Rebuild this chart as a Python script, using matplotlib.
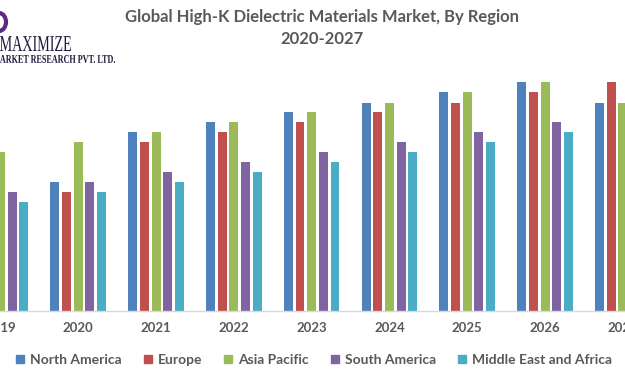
import numpy as np
import matplotlib
matplotlib.use("Agg")
from matplotlib import pyplot as plt
from matplotlib.lines import Line2D
from matplotlib.textpath import TextPath
from matplotlib.patches import PathPatch, Arc
from matplotlib.font_manager import FontProperties
import matplotlib.transforms as mtransforms

#%% data (arbitrary units)
years = ["2019", "2020", "2021", "2022", "2023", "2024", "2025", "2026", "2027"]
north_america = [14.9, 12.9, 17.9, 18.9, 19.9, 20.8, 21.9, 22.9, 20.8]
europe        = [13.9, 11.9, 16.9, 17.9, 18.9, 19.9, 20.8, 21.9, 22.9]
asia_pacific  = [15.9, 16.9, 17.9, 18.9, 19.9, 20.8, 21.9, 22.9, 20.8]
south_america = [11.9, 12.9, 13.9, 14.9, 15.9, 16.9, 17.9, 18.9, 17.9]
mea           = [10.9, 11.9, 12.9, 13.9, 14.9, 15.9, 16.9, 17.9, 16.9]

regions = ["North America", "Europe", "Asia Pacific", "South America", "Middle East and Africa"]
colors = ["#4F81BD", "#C0504D", "#9BBB59", "#8064A2", "#4BACC6"]
series = [north_america, europe, asia_pacific, south_america, mea]

txt = "#595959"
font = "Lato"

#%%
W, H = 625, 375
fig = plt.figure(figsize=(W / 100, H / 100), dpi=100)
ax = fig.add_axes([0, (H - 311) / H, 1, (311 - 60) / H])

x = np.arange(len(years))
step = 0.150
width = 0.115
for k, (vals, c) in enumerate(zip(series, colors)):
    ax.bar(x + (k - 2) * step, vals, width, color=c, zorder=2)

ax.set_xlim(-0.006, 8.027)
ax.set_ylim(0, 25.1)
ax.set_xticks(x)
ax.set_xticklabels(years, fontsize=9.5, color=txt, family=font, fontweight="bold")
ax.tick_params(axis="x", length=0, pad=8)
ax.set_yticks([])
for s in ["left", "right", "top"]:
    ax.spines[s].set_visible(False)
ax.spines["bottom"].set_color("#d9d9d9")
ax.spines["bottom"].set_linewidth(1)
ax.patch.set_alpha(0)

# title
fig.text(0.515, 1 - 17 / H, "Global High-K Dielectric Materials Market, By Region",
         ha="center", va="center", fontsize=12, color=txt, family=font, fontweight="bold")
fig.text(0.515, 1 - 39 / H, "2020-2027",
         ha="center", va="center", fontsize=12, color=txt, family=font, fontweight="bold")

# legend
handles = [Line2D([], [], marker="s", linestyle="", color=c, markersize=5.5) for c in colors]
fig.legend(handles, regions, loc="center", bbox_to_anchor=(0.5024, 1 - 359.5 / H), ncol=5,
           frameon=False, handlelength=0.6, handletextpad=0.4, columnspacing=1.6,
           prop=FontProperties(family=font, weight="bold", size=10), labelcolor=txt)

# logo (cropped in the reference)
def logo_text(s, x0, y_top, w, h, weight="normal"):
    tp = TextPath((0, 0), s, size=1, prop=FontProperties(family="Liberation Serif", weight=weight))
    bb = tp.get_extents()
    tr = (mtransforms.Affine2D().translate(-bb.x0, -bb.y0)
          .scale(w / bb.width, h / bb.height).translate(x0, H - y_top - h))
    p = PathPatch(tr.transform_path(tp), color="#1c1c3c", lw=0,
                  transform=mtransforms.IdentityTransform())
    fig.add_artist(p)

logo_text("MAXIMIZE", 0, 36, 71, 15)
logo_text("ARKET RESEARCH PVT. LTD.", 0, 55, 115, 8, weight="bold")
fig.add_artist(Arc((-1 / W, 1 - 22 / H), 14 / W, 18 / H, theta1=-90, theta2=90,
                   color="#5b2a86", lw=3, transform=fig.transFigure))

fig.savefig("out.png", dpi=100)
